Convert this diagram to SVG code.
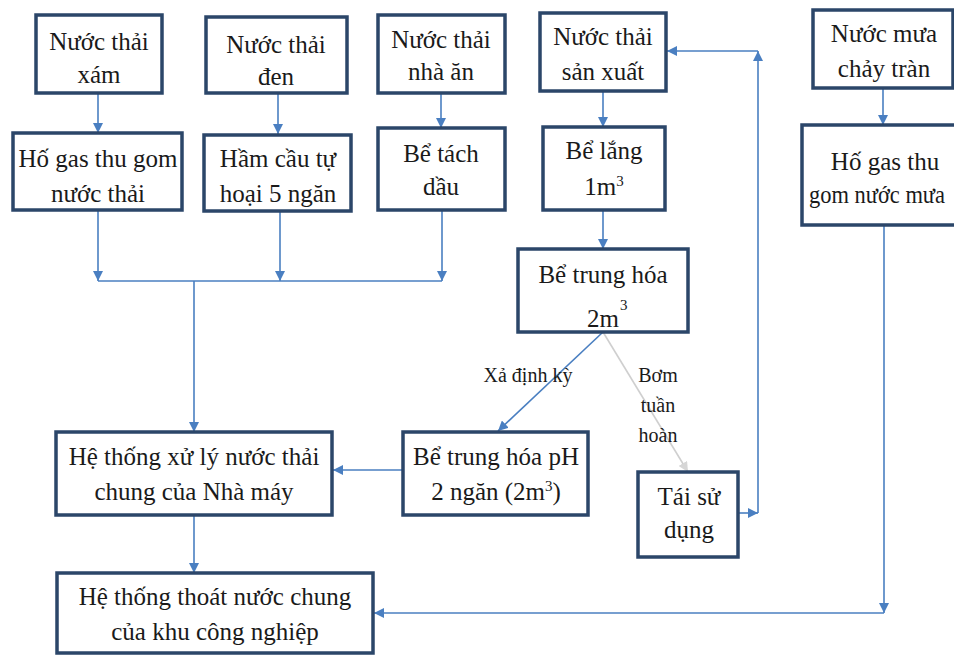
<svg xmlns="http://www.w3.org/2000/svg" width="954" height="655" viewBox="0 0 954 655">
<defs>
<style>
.box{fill:#fff;stroke:#2b4669;stroke-width:3.5}
.t{font-family:'Liberation Serif','DejaVu Serif',serif;font-size:25px;fill:#1a1a1a;text-anchor:middle}
.s{font-family:'Liberation Serif','DejaVu Serif',serif;font-size:20px;fill:#1a1a1a;text-anchor:middle}
.sup{font-family:'Liberation Serif','DejaVu Serif',serif;font-size:15px;fill:#1a1a1a}
.c{fill:none;stroke:#4a7fc1;stroke-width:1.6}
.g{fill:none;stroke:#cfcfcf;stroke-width:1.6}
</style>
<marker id="a" viewBox="0 0 10 10" refX="10" refY="5" markerWidth="10" markerHeight="10" markerUnits="userSpaceOnUse" orient="auto">
<path d="M0,0L10,5L0,10z" fill="#4a7fc1"/>
</marker>
<marker id="ag" viewBox="0 0 10 10" refX="10" refY="5" markerWidth="10" markerHeight="10" markerUnits="userSpaceOnUse" orient="auto">
<path d="M0,0L10,5L0,10z" fill="#d6d6d6"/>
</marker>
</defs>
<rect width="954" height="655" fill="#fff"/>
<g id="connectors">
<path class="c" d="M98,93V133" marker-end="url(#a)"/>
<path class="c" d="M278,93V134" marker-end="url(#a)"/>
<path class="c" d="M441,93V128" marker-end="url(#a)"/>
<path class="c" d="M98,211V281" marker-end="url(#a)"/>
<path class="c" d="M280,211V281" marker-end="url(#a)"/>
<path class="c" d="M442,210V281" marker-end="url(#a)"/>
<path class="c" d="M98,281H442"/>
<path class="c" d="M194,281V432" marker-end="url(#a)"/>
<path class="c" d="M194,515V573" marker-end="url(#a)"/>
<path class="c" d="M403,470H333" marker-end="url(#a)"/>
<path class="c" d="M603,91V127" marker-end="url(#a)"/>
<path class="c" d="M603,210V249" marker-end="url(#a)"/>
<path class="c" d="M603,332L498,431" marker-end="url(#a)"/>
<path class="g" d="M603,332L688,472" marker-end="url(#ag)"/>
<path class="c" d="M738,513H758" marker-end="url(#a)"/>
<path class="c" d="M758,513V51" marker-end="url(#a)"/>
<path class="c" d="M758,51H667" marker-end="url(#a)"/>
<path class="c" d="M883,88V125" marker-end="url(#a)"/>
<path class="c" d="M884,225V613" marker-end="url(#a)"/>
<path class="c" d="M884,613H374" marker-end="url(#a)"/>
<text class="s" x="528" y="382">Xả định kỳ</text>
<text class="s" x="658" y="382">Bơm</text>
<text class="s" x="658" y="412">tuần</text>
<text class="s" x="658" y="442">hoàn</text>
</g>
<g id="n1"><rect class="box" x="36" y="15" width="126" height="78"/><text class="t" x="99" y="50">Nước thải</text><text class="t" x="99" y="83">xám</text></g>
<g id="n2"><rect class="box" x="13" y="133" width="169" height="77"/><text class="t" x="98" y="167">Hố gas thu gom</text><text class="t" x="98" y="202">nước thải</text></g>
<g id="n3"><rect class="box" x="206" y="17" width="141" height="76"/><text class="t" x="276" y="53">Nước thải</text><text class="t" x="276" y="85">đen</text></g>
<g id="n4"><rect class="box" x="204" y="135" width="147" height="76"/><text class="t" x="278" y="167">Hầm cầu tự</text><text class="t" x="278" y="202">hoại 5 ngăn</text></g>
<g id="n5"><rect class="box" x="378" y="15" width="127" height="78"/><text class="t" x="441" y="48">Nước thải</text><text class="t" x="441" y="80">nhà ăn</text></g>
<g id="n6"><rect class="box" x="378" y="128" width="127" height="82"/><text class="t" x="441" y="162">Bể tách</text><text class="t" x="441" y="195">dầu</text></g>
<g id="n7"><rect class="box" x="540" y="13" width="126" height="78"/><text class="t" x="603" y="45">Nước thải</text><text class="t" x="603" y="80">sản xuất</text></g>
<g id="n8"><rect class="box" x="543" y="127" width="122" height="83"/><text class="t" x="604" y="159">Bể lắng</text><text class="t" x="604" y="195">1m<tspan class="sup" dy="-9">3</tspan></text></g>
<g id="n9"><rect class="box" x="813" y="10" width="140" height="78"/><text class="t" x="884" y="42">Nước mưa</text><text class="t" x="884" y="77">chảy tràn</text></g>
<g id="n10"><rect class="box" x="802" y="125" width="170" height="100"/><text class="t" x="885" y="170">Hố gas thu</text><text class="t" x="877" y="203" textLength="136" lengthAdjust="spacingAndGlyphs">gom nước mưa</text></g>
<g id="n11"><rect class="box" x="518" y="249" width="170" height="83"/><text class="t" x="603" y="283">Bể trung hóa</text><text class="t" x="603" y="327">2m</text><text class="sup" x="620" y="310">3</text></g>
<g id="n12"><rect class="box" x="403" y="432" width="185" height="83"/><text class="t" x="496" y="465">Bể trung hóa pH</text><text class="t" x="496" y="500">2 ngăn (2m<tspan class="sup" dy="-9">3</tspan><tspan dy="9">)</tspan></text></g>
<g id="n13"><rect class="box" x="638" y="472" width="100" height="85"/><text class="t" x="689" y="505">Tái sử</text><text class="t" x="689" y="538">dụng</text></g>
<g id="n14"><rect class="box" x="56" y="432" width="276" height="83"/><text class="t" x="194" y="465">Hệ thống xử lý nước thải</text><text class="t" x="194" y="500">chung của Nhà máy</text></g>
<g id="n15"><rect class="box" x="57" y="573" width="316" height="80"/><text class="t" x="215" y="605">Hệ thống thoát nước chung</text><text class="t" x="215" y="640">của khu công nghiệp</text></g>
</svg>
